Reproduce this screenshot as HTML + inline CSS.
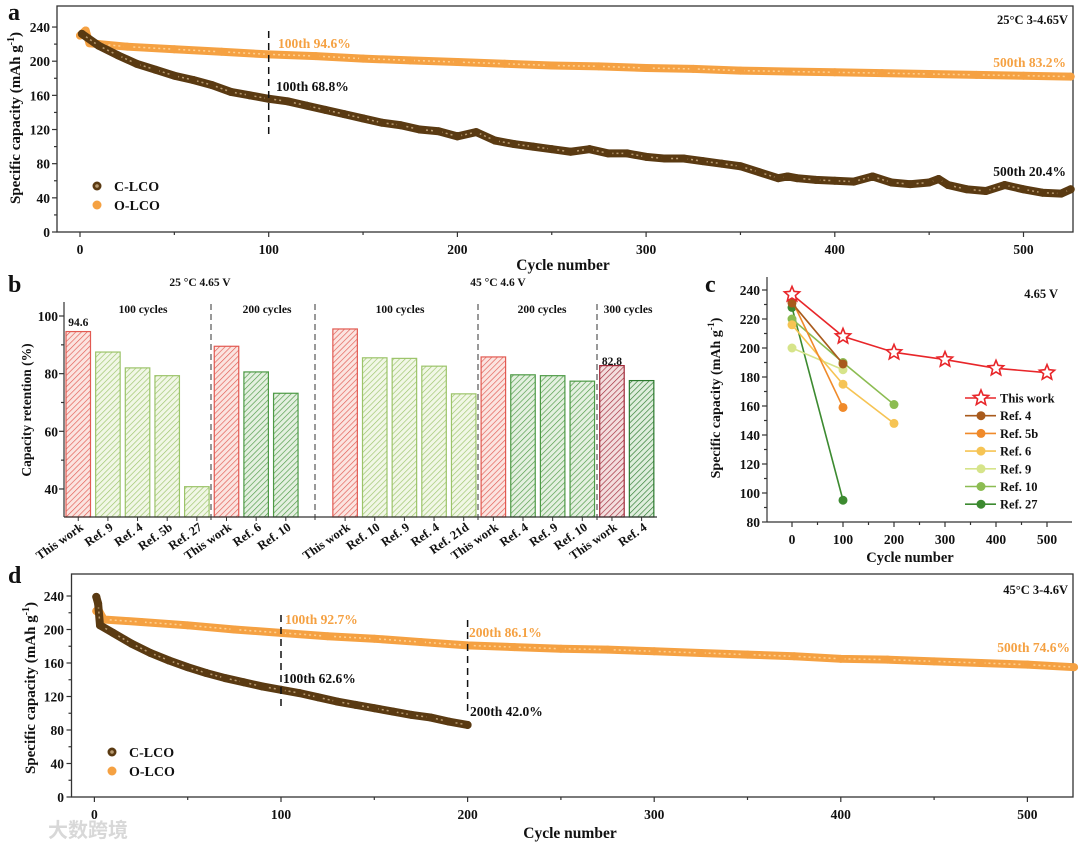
<!DOCTYPE html>
<html><head><meta charset="utf-8">
<style>
html,body{margin:0;padding:0;background:#fff;}
svg{display:block;font-family:"Liberation Serif","Noto Serif CJK SC",serif;font-weight:bold;}
</style></head>
<body>
<svg id="fig" width="1080" height="847" viewBox="0 0 1080 847" xmlns="http://www.w3.org/2000/svg">
<defs id="defs"></defs>
<g id="root"></g>
</svg>
<script>
// ---------- DATA ----------
// Panel a (25°C 3-4.65V)
const aCycC = [1,10,20,30,40,50,60,70,80,90,100,110,120,130,140,150,160,170,180,190,200,210,220,230,240,250,260,270,280,290,300,310,320,330,340,350,360,370,375,380,390,400,410,420,430,440,450,455,460,470,480,490,500,510,520,525];
const aValC = [232,218,207,197,190,183,178,172,164,160,156,153,148,143,138,133,128,125,120,118,112,117,107,103,100,97,94,97,92,92,88,86,86,83,80,77,70,63,65,63,61,60,59,65,58,56,58,62,55,50,48,55,50,46,45,50];
const aCycO = [0,3,5,10,25,50,75,100,125,150,175,200,225,250,275,300,325,350,375,400,425,450,475,500,525];
const aValO = [230,236,221,220,217,214,211,208,206,203,201,199,197,195,194,192,191,189,188,187,186,185,184,183,182];
// Panel b (capacity retention bars)
const bLabels = ["This work","Ref. 9","Ref. 4","Ref. 5b","Ref. 27","This work","Ref. 6","Ref. 10","This work","Ref. 10","Ref. 9","Ref. 4","Ref. 21d","This work","Ref. 4","Ref. 9","Ref. 10","This work","Ref. 4"];
const bValues = [94.6,87.5,82.0,79.3,40.8,89.5,80.6,73.2,95.5,85.5,85.3,82.6,73.0,85.8,79.6,79.3,77.4,82.8,77.6];
const bKinds = ["red","lg","lg","lg","lg","red","dg","dg","red","lg","lg","lg","lg","red","dg","dg","dg","dred","ddg"];
// Panel c (comparison)
const cNames = ["This work","Ref. 4","Ref. 5b","Ref. 6","Ref. 9","Ref. 10","Ref. 27"];
const cCycles = [[0,100,200,300,400,500],[0,100],[0,100],[0,100,200],[0,100],[0,100,200],[0,100]];
const cValues = [[237,208,197,192,186,183],[231,189],[233,159],[216,175,148],[200,185],[220,190,161],[228,95]];
const cColors = ["#e8262a","#a85a1c","#f08a2a","#f6c454","#d6e48a","#8cbc52","#3c8a30"];
// Panel d (45°C 3-4.6V)
const dCycC = [1,2,3,10,20,30,40,50,60,70,80,90,100,110,120,130,140,150,160,170,180,190,200];
const dValC = [239,231,205,196,183,172,163,155,148,142,137,132,128,124,119,114,110,106,102,98,95,90,86];
const dCycO = [1,2,5,25,50,75,100,125,150,175,200,225,250,275,300,325,350,375,400,425,450,475,500,525];
const dValO = [222,224,212,209,205,200,196,192,189,185,181,179,177,176,174,172,170,168,165,164,162,160,158,155];

// ---------- helpers ----------
const NS="http://www.w3.org/2000/svg";
const root=document.getElementById('root');
const defs=document.getElementById('defs');
function mk(tag,attrs,parent){const e=document.createElementNS(NS,tag);for(const k in attrs)e.setAttribute(k,attrs[k]);(parent||root).appendChild(e);return e;}
function txt(s,x,y,size,attrs,parent){const a=Object.assign({x:x,y:y,'font-size':size},attrs||{});const t=mk('text',a,parent);t.textContent=s;return t;}

const brown="#5a3a12", brownL="#b89a70", orange="#f5a142", orangeL="#ffd090";

// ---------- Panel a ----------
const ax=c=>80+1.887*c, ay=v=>232-0.854*v;
const ga=mk('g',{});


const fa=mk('rect',{x:57,y:6,width:1016,height:226,fill:'none',stroke:'#333','stroke-width':1.3},ga);


function yAxis(g,x,yfn,min,max,step,minor,labelX){
  for(let v=min;v<=max+0.001;v+=minor){const y=yfn(v);const major=Math.abs((v-min)%step)<0.01;
    mk('line',{x1:x,x2:x-(major?5:3),y1:y,y2:y,stroke:'#333','stroke-width':1.2},g);
    if(major){const t=txt(String(v),labelX,y+5,13.5,{'text-anchor':'end',fill:'#111'},g);
      
      }}
}
function xAxis(g,y,xfn,min,max,step,minor,xl){
  for(let v=min;v<=max+0.001;v+=minor){const x=xfn(v);if(x>xl)break;const major=Math.abs((v-min)%step)<0.01;
    mk('line',{x1:x,x2:x,y1:y,y2:y+(major?5:3),stroke:'#333','stroke-width':1.2},g);
    if(major){const t=txt(String(v),x,y+22,13.5,{'text-anchor':'middle',fill:'#111'},g);
      
      }}
}
yAxis(ga,57,ay,0,240,40,20,50);
xAxis(ga,232,ax,0,500,100,50,1073);
function series(g,cyc,val,xf,yf,col,light,name){
  const pts=cyc.map((c,i)=>xf(c)+','+yf(val[i])).join(' ');
  const l=mk('polyline',{points:pts,fill:'none',stroke:col,'stroke-width':8,'stroke-linejoin':'round','stroke-linecap':'round'},g);
  
  
  mk('polyline',{points:pts,fill:'none',stroke:light,'stroke-width':1.5,'stroke-dasharray':'2 3','stroke-linejoin':'round'},g);
  cyc.forEach((c,i)=>{const p=mk('circle',{cx:xf(c),cy:yf(val[i]),r:4,fill:col},g);
    
    });
}
series(ga,aCycO,aValO,ax,ay,orange,orangeL,'o-lco-a');
series(ga,aCycC,aValC,ax,ay,brown,brownL,'c-lco-a');
mk('line',{x1:ax(100),x2:ax(100),y1:31,y2:136,stroke:'#111','stroke-width':1.5,'stroke-dasharray':'7 5'},ga);
txt('100th 94.6%',278,48,13.5,{fill:orange},ga);
txt('100th 68.8%',276,91,13.5,{fill:'#111'},ga);
txt('500th 83.2%',1066,67,13.5,{fill:orange,'text-anchor':'end'},ga);
txt('500th 20.4%',1066,176,13.5,{fill:'#111','text-anchor':'end'},ga);
txt('25°C 3-4.65V',1068,24,12.5,{fill:'#111','text-anchor':'end'},ga);
function legend2(g,x,y1,y2){
  mk('circle',{cx:x,cy:y1,r:4.5,fill:brown},g);mk('circle',{cx:x,cy:y1,r:1.8,fill:brownL},g);
  const t1=txt('C-LCO',x+17,y1+5,14,{fill:'#111'},g);
  
  
  mk('circle',{cx:x,cy:y2,r:4.5,fill:orange},g);
  const t2=txt('O-LCO',x+17,y2+5,14,{fill:'#111'},g);
  
  
}
legend2(ga,97,186,205);
const yta=txt('Specific capacity (mAh g',0,0,15,{transform:'translate(20,118) rotate(-90)','text-anchor':'middle',fill:'#111'},ga);
const sup=mk('tspan',{dy:-6,'font-size':10},yta);sup.textContent='-1';
const sup2=mk('tspan',{dy:6},yta);sup2.textContent=')';


const xta=txt('Cycle number',563,270,15.5,{'text-anchor':'middle',fill:'#111'},ga);


txt('a',8,20,24,{fill:'#111'},ga);

// ---------- Panel b ----------
const bx=i=>66+29.65*(i>=8?i+1:i), bw=24.5, by=v=>316+(100-v)*2.883;
const gb=mk('g',{});


const kinds={red:['#e25a52','#fbe4e0'],lg:['#9cc46a','#f1f7e6'],dg:['#4e9a46','#e4f0e0'],dred:['#a02838','#f3dede'],ddg:['#2c7a2e','#dfeedd']};
for(const k in kinds){const p=mk('pattern',{id:'h-'+k,width:4,height:4,patternUnits:'userSpaceOnUse',patternTransform:'rotate(45)'},defs);
  mk('rect',{width:4,height:4,fill:kinds[k][1]},p);mk('line',{x1:0,y1:0,x2:0,y2:4,stroke:kinds[k][0],'stroke-width':1.3},p);}
bValues.forEach((v,i)=>{const k=bKinds[i];const r=mk('rect',{x:bx(i),y:by(v),width:bw,height:517-by(v),fill:'url(#h-'+k+')',stroke:kinds[k][0],'stroke-width':1.2},gb);
  
  
  mk('line',{x1:bx(i)+bw/2,x2:bx(i)+bw/2,y1:517,y2:521,stroke:'#333','stroke-width':1},gb);
  const t=txt(bLabels[i],0,0,12.5,{transform:'translate('+(bx(i)+bw/2+6)+',529) rotate(-35)','text-anchor':'end',fill:'#111'},gb);
  
  });
mk('line',{x1:64,x2:64,y1:302,y2:517,stroke:'#333','stroke-width':1.2},gb);
mk('line',{x1:64,x2:657,y1:517,y2:517,stroke:'#333','stroke-width':1.2},gb);
yAxis(gb,64,by,40,100,20,10,58);
[211,315,478,597].forEach(x=>mk('line',{x1:x,x2:x,y1:304,y2:521,stroke:'#333','stroke-width':1,'stroke-dasharray':'6 4'},gb));
txt(String(bValues[0]),bx(0)+bw/2,326,11.5,{'text-anchor':'middle',fill:'#111'},gb);
txt(String(bValues[17]),bx(17)+bw/2,365,11.5,{'text-anchor':'middle',fill:'#111'},gb);
[['25 °C 4.65 V',200,286],['45 °C 4.6 V',498,286],['100 cycles',143,313],['200 cycles',267,313],['100 cycles',400,313],['200 cycles',542,313],['300 cycles',628,313]].forEach(a=>txt(a[0],a[1],a[2],11.5,{'text-anchor':'middle',fill:'#111'},gb));
const ytb=txt('Capacity retention (%)',0,0,13.5,{transform:'translate(31,410) rotate(-90)','text-anchor':'middle',fill:'#111'},gb);


txt('b',8,292,24,{fill:'#111'},gb);

// ---------- Panel c ----------
const cx=c=>792+0.51*c, cy=v=>522-1.45*(v-80);
const gc=mk('g',{});


mk('line',{x1:767,x2:767,y1:277,y2:522,stroke:'#333','stroke-width':1.2},gc);
mk('line',{x1:767,x2:1072,y1:522,y2:522,stroke:'#333','stroke-width':1.2},gc);
yAxis(gc,767,cy,80,240,20,10,760);
xAxis(gc,522,cx,0,500,100,50,1072);
function star(x,y,R,col,g){let p=[];for(let i=0;i<10;i++){const r=i%2?R*0.45:R;const a=-Math.PI/2+i*Math.PI/5;p.push((x+r*Math.cos(a)).toFixed(1)+','+(y+r*Math.sin(a)).toFixed(1));}
  return mk('polygon',{points:p.join(' '),fill:'#fff',stroke:col,'stroke-width':1.6},g);}
for(let s=cNames.length-1;s>=0;s--){
  const pts=cCycles[s].map((c,i)=>cx(c)+','+cy(cValues[s][i])).join(' ');
  const l=mk('polyline',{points:pts,fill:'none',stroke:cColors[s],'stroke-width':1.6},gc);
  
  
  cCycles[s].forEach((c,i)=>{let m;
    if(s===0)m=star(cx(c),cy(cValues[s][i]),8,cColors[s],gc);
    else m=mk('circle',{cx:cx(c),cy:cy(cValues[s][i]),r:4.5,fill:cColors[s]},gc);
    
    });
}
cNames.forEach((n,i)=>{const y=398+17.7*i;
  mk('line',{x1:965,x2:996,y1:y,y2:y,stroke:cColors[i],'stroke-width':1.6},gc);
  if(i===0)star(981,y,8,cColors[i],gc);else mk('circle',{cx:981,cy:y,r:4.5,fill:cColors[i]},gc);
  const t=txt(n,1000,y+4.5,12.5,{fill:'#111'},gc);
  
  });
txt('4.65 V',1058,298,12.5,{'text-anchor':'end',fill:'#111'},gc);
const ytc=txt('Specific capacity (mAh g',0,0,14,{transform:'translate(720,398) rotate(-90)','text-anchor':'middle',fill:'#111'},gc);
const sc=mk('tspan',{dy:-6,'font-size':9.5},ytc);sc.textContent='-1';
const sc2=mk('tspan',{dy:6},ytc);sc2.textContent=')';


txt('Cycle number',910,562,14.5,{'text-anchor':'middle',fill:'#111'},gc);
txt('c',705,292,24,{fill:'#111'},gc);

// ---------- Panel d ----------
const dx=c=>94.4+1.866*c, dy=v=>797-0.8375*v;
const gd=mk('g',{});


mk('rect',{x:71.5,y:574,width:1001.5,height:223,fill:'none',stroke:'#333','stroke-width':1.3},gd);
yAxis(gd,71.5,dy,0,240,40,20,64);
xAxis(gd,797,dx,0,500,100,50,1073);
series(gd,dCycO,dValO,dx,dy,orange,orangeL,'o-lco-d');
series(gd,dCycC,dValC,dx,dy,brown,brownL,'c-lco-d');
mk('line',{x1:dx(100),x2:dx(100),y1:615,y2:707,stroke:'#111','stroke-width':1.5,'stroke-dasharray':'7 5'},gd);
mk('line',{x1:dx(200),x2:dx(200),y1:620,y2:714,stroke:'#111','stroke-width':1.5,'stroke-dasharray':'7 5'},gd);
txt('100th 92.7%',285,624,13.5,{fill:orange},gd);
txt('100th 62.6%',283,683,13.5,{fill:'#111'},gd);
txt('200th 86.1%',469,637,13.5,{fill:orange},gd);
txt('200th 42.0%',470,716,13.5,{fill:'#111'},gd);
txt('500th 74.6%',1070,652,13.5,{fill:orange,'text-anchor':'end'},gd);
txt('45°C 3-4.6V',1068,594,12.5,{fill:'#111','text-anchor':'end'},gd);
legend2(gd,112,752,771);
const ytd=txt('Specific capacity (mAh g',0,0,15,{transform:'translate(35,688) rotate(-90)','text-anchor':'middle',fill:'#111'},gd);
const sd=mk('tspan',{dy:-6,'font-size':10},ytd);sd.textContent='-1';
const sd2=mk('tspan',{dy:6},ytd);sd2.textContent=')';


const xtd=txt('Cycle number',570,838,15.5,{'text-anchor':'middle',fill:'#111'},gd);


txt('d',8,583,24,{fill:'#111'},gd);
const wm=txt('大数跨境',48,837,20,{fill:'#d8d8d8','font-family':'"Noto Sans CJK SC",sans-serif'},gd);


</script>
</body></html>
